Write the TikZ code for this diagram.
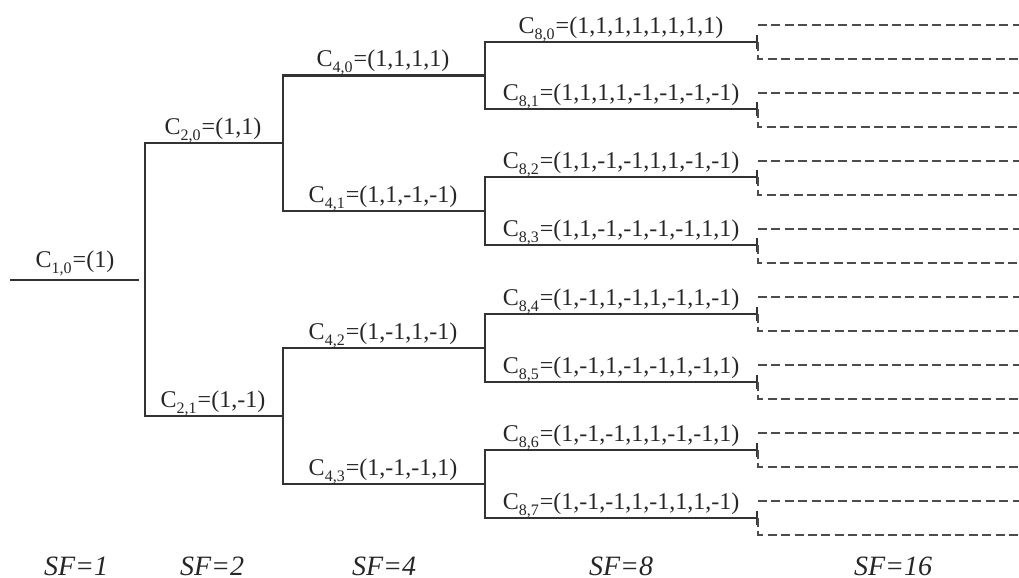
\documentclass[tikz,border=0pt]{standalone}
\usepackage{fontspec}
\setmainfont{Liberation Serif}
\usetikzlibrary{arrows.meta}
\newcommand\idx[1]{\raisebox{-1.6pt}{\textsubscript{#1}}}
\tikzset{
  branch/.style={draw=black!80, line width=1.2pt},
  leaf/.style={branch, -{Bar[width=7pt,line width=1.2pt]}},
  spread/.style={draw=black!70, line width=1.3pt, dash pattern=on 4.5pt off 2.2pt},
  code/.style={anchor=base, inner sep=0pt, text=black!85, font=\fontsize{12}{14}\selectfont},
  sflabel/.style={anchor=base, inner sep=0pt, text=black!85, font=\fontsize{14}{16}\selectfont\itshape}
}
\begin{document}
\begin{tikzpicture}[x=0.5pt, y=-0.5pt]
\useasboundingbox (0,0) rectangle (1019,578);
% tree points
\coordinate (t1s) at (10,280);
\coordinate (t10) at (139,280);
\coordinate (t1j) at (145,280);
\coordinate (t20) at (283,143);
\coordinate (t21) at (283,416);
\coordinate (t40) at (485,75.5);
\coordinate (t41) at (485,211);
\coordinate (t42) at (485,348);
\coordinate (t43) at (485,484);
\coordinate (t80) at (758,42);
\coordinate (t81) at (758,109);
\coordinate (t82) at (758,177);
\coordinate (t83) at (758,245);
\coordinate (t84) at (758,314);
\coordinate (t85) at (758,382);
\coordinate (t86) at (758,450);
\coordinate (t87) at (758,518);
% right rim
\coordinate (u0) at (1019,25);
\coordinate (u1) at (1019,59);
\coordinate (u2) at (1019,93);
\coordinate (u3) at (1019,127);
\coordinate (u4) at (1019,161);
\coordinate (u5) at (1019,195);
\coordinate (u6) at (1019,229);
\coordinate (u7) at (1019,263);
\coordinate (u8) at (1019,297);
\coordinate (u9) at (1019,331);
\coordinate (u10) at (1019,365);
\coordinate (u11) at (1019,399);
\coordinate (u12) at (1019,433);
\coordinate (u13) at (1019,467);
\coordinate (u14) at (1019,501);
\coordinate (u15) at (1019,535);
% SF=1
\draw[branch](t1s) -- (t10);
% SF=2
\draw[branch](t1j) |- (t20);
\draw[branch](t1j) |- (t21);
% SF=4
\draw[branch](t20) |- (t40);
\draw[branch](t20) |- (t41);
\draw[branch](t21) |- (t42);
\draw[branch](t21) |- (t43);
% SF=8
\draw[leaf](t40) |- (t80);
\draw[leaf](t40) |- (t81);
\draw[leaf](t41) |- (t82);
\draw[leaf](t41) |- (t83);
\draw[leaf](t42) |- (t84);
\draw[leaf](t42) |- (t85);
\draw[leaf](t43) |- (t86);
\draw[leaf](t43) |- (t87);
% SF=16
\draw[spread](t80 |- u0) -- (u0);
\draw[spread](t80) |- (u1);
\draw[spread](t81 |- u2) -- (u2);
\draw[spread](t81) |- (u3);
\draw[spread](t82 |- u4) -- (u4);
\draw[spread](t82) |- (u5);
\draw[spread](t83 |- u6) -- (u6);
\draw[spread](t83) |- (u7);
\draw[spread](t84 |- u8) -- (u8);
\draw[spread](t84) |- (u9);
\draw[spread](t85 |- u10) -- (u10);
\draw[spread](t85) |- (u11);
\draw[spread](t86 |- u12) -- (u12);
\draw[spread](t86) |- (u13);
\draw[spread](t87 |- u14) -- (u14);
\draw[spread](t87) |- (u15);
% codes
\node[code] (l10) at (75,267) {C\idx{1,0}=(1)};
\node[code] (l20) at (213,134) {C\idx{2,0}=(1,1)};
\node[code] (l21) at (213,407) {C\idx{2,1}=(1,-1)};
\node[code] (l40) at (383,66) {C\idx{4,0}=(1,1,1,1)};
\node[code] (l41) at (383,202) {C\idx{4,1}=(1,1,-1,-1)};
\node[code] (l42) at (383,339) {C\idx{4,2}=(1,-1,1,-1)};
\node[code] (l43) at (383,475) {C\idx{4,3}=(1,-1,-1,1)};
\node[code] (l80) at (621,33) {C\idx{8,0}=(1,1,1,1,1,1,1,1)};
\node[code] (l81) at (621,100) {C\idx{8,1}=(1,1,1,1,-1,-1,-1,-1)};
\node[code] (l82) at (621,168) {C\idx{8,2}=(1,1,-1,-1,1,1,-1,-1)};
\node[code] (l83) at (621,236) {C\idx{8,3}=(1,1,-1,-1,-1,-1,1,1)};
\node[code] (l84) at (621,305) {C\idx{8,4}=(1,-1,1,-1,1,-1,1,-1)};
\node[code] (l85) at (621,373) {C\idx{8,5}=(1,-1,1,-1,-1,1,-1,1)};
\node[code] (l86) at (621,441) {C\idx{8,6}=(1,-1,-1,1,1,-1,-1,1)};
\node[code] (l87) at (621,509) {C\idx{8,7}=(1,-1,-1,1,-1,1,1,-1)};
% spreading factors
\node[sflabel] (sf1) at (76,575) {SF=1};
\node[sflabel] (sf2) at (212,575) {SF=2};
\node[sflabel] (sf4) at (384,575) {SF=4};
\node[sflabel] (sf8) at (621,575) {SF=8};
\node[sflabel] (sf16) at (893,575) {SF=16};
\end{tikzpicture}
\end{document}
